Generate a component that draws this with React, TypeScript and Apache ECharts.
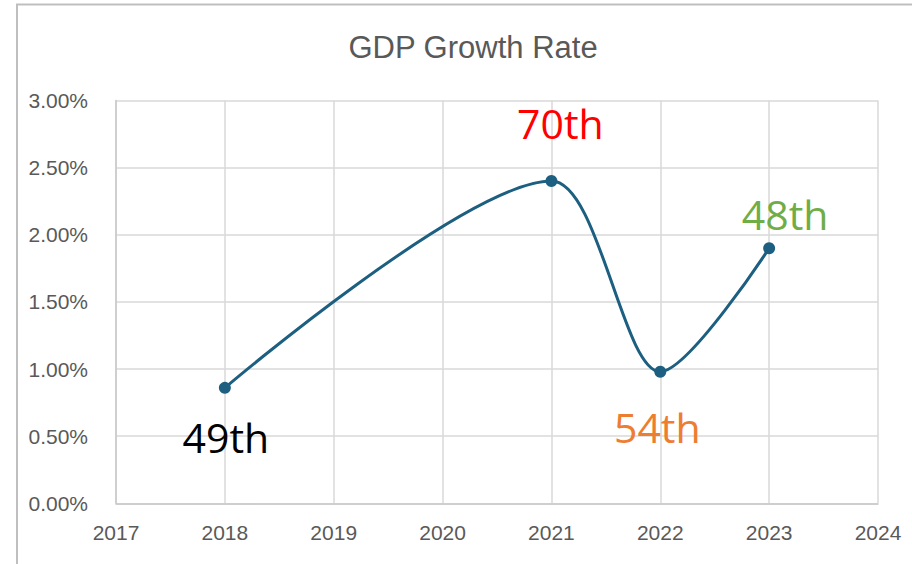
import React, { useEffect, useRef } from "react";
import * as echarts from "echarts";

const years = [2018, 2021, 2022, 2023];
const growthRates = [0.86, 2.4, 0.98, 1.9];
const rankLabels = ["49th", "70th", "54th", "48th"];
const rankColors = ["#000000", "#ff0000", "#ed7d31", "#70ad47"];
const xTicks = [2017, 2024];
const yTicks = [0, 3, 0.5];

// label offsets (style only)
const labelOffsets = [
  [1, 49],
  [9, -58],
  [-3, 55],
  [16, -34],
];

export default function App() {
  const ref = useRef<HTMLDivElement>(null);
  useEffect(() => {
    if (!ref.current) return;
    const chart = echarts.init(ref.current, undefined, { renderer: "svg" });
    const narrow = "'Liberation Sans Narrow', 'Liberation Sans', Arial, sans-serif";
    chart.setOption({
      animation: false,
      backgroundColor: "#ffffff",
      title: {
        text: "GDP Growth Rate",
        left: 468,
        textAlign: "center",
        top: 27,
        textStyle: {
          fontFamily: narrow,
          fontSize: 31,
          fontWeight: "normal",
          color: "#595959",
        },
      },
      graphic: [
        {
          type: "polyline",
          shape: { points: [[17, 564], [17, 4.5], [912, 4.5]] },
          style: { stroke: "#bfbfbf", lineWidth: 2, fill: null },
          silent: true,
        },
      ],
      grid: { left: 116, right: 34, top: 100.5, bottom: 60.7 },
      xAxis: {
        type: "value",
        min: xTicks[0],
        max: xTicks[1],
        interval: 1,
        axisLine: { show: true, lineStyle: { color: "#c8c8c8", width: 1.5 } },
        axisTick: { show: false },
        splitLine: { show: true, lineStyle: { color: "#d9d9d9", width: 1.5 } },
        axisLabel: {
          fontFamily: narrow,
          fontSize: 21,
          color: "#595959",
          margin: 19,
          showMinLabel: true,
          showMaxLabel: true,
          formatter: (v: number) => String(v),
        },
      },
      yAxis: {
        type: "value",
        min: yTicks[0],
        max: yTicks[1],
        interval: yTicks[2],
        axisLine: { show: true, lineStyle: { color: "#c8c8c8", width: 1.5 } },
        axisTick: { show: false },
        splitLine: { show: true, lineStyle: { color: "#d9d9d9", width: 1.5 } },
        axisLabel: {
          fontFamily: narrow,
          fontSize: 21,
          color: "#595959",
          margin: 28,
          formatter: (v: number) => v.toFixed(2) + "%",
        },
      },
      series: [
        {
          type: "line",
          smooth: 0.3,
          symbol: "circle",
          symbolSize: 12,
          itemStyle: { color: "#1c5f80" },
          lineStyle: { color: "#1c5f80", width: 3 },
          data: years.map((y, i) => ({
            value: [y, growthRates[i]],
            label: {
              show: true,
              formatter: rankLabels[i],
              position: "inside",
              offset: labelOffsets[i],
              align: "center",
              verticalAlign: "middle",
              fontFamily: "'Open Sans', 'Noto Sans', sans-serif",
              fontSize: 41,
              color: rankColors[i],
            },
          })),
        },
      ],
    });
    return () => chart.dispose();
  }, []);
  return (
    <div
      ref={ref}
      style={{ position: "absolute", left: 0, top: 0, width: 912, height: 564 }}
    />
  );
}
